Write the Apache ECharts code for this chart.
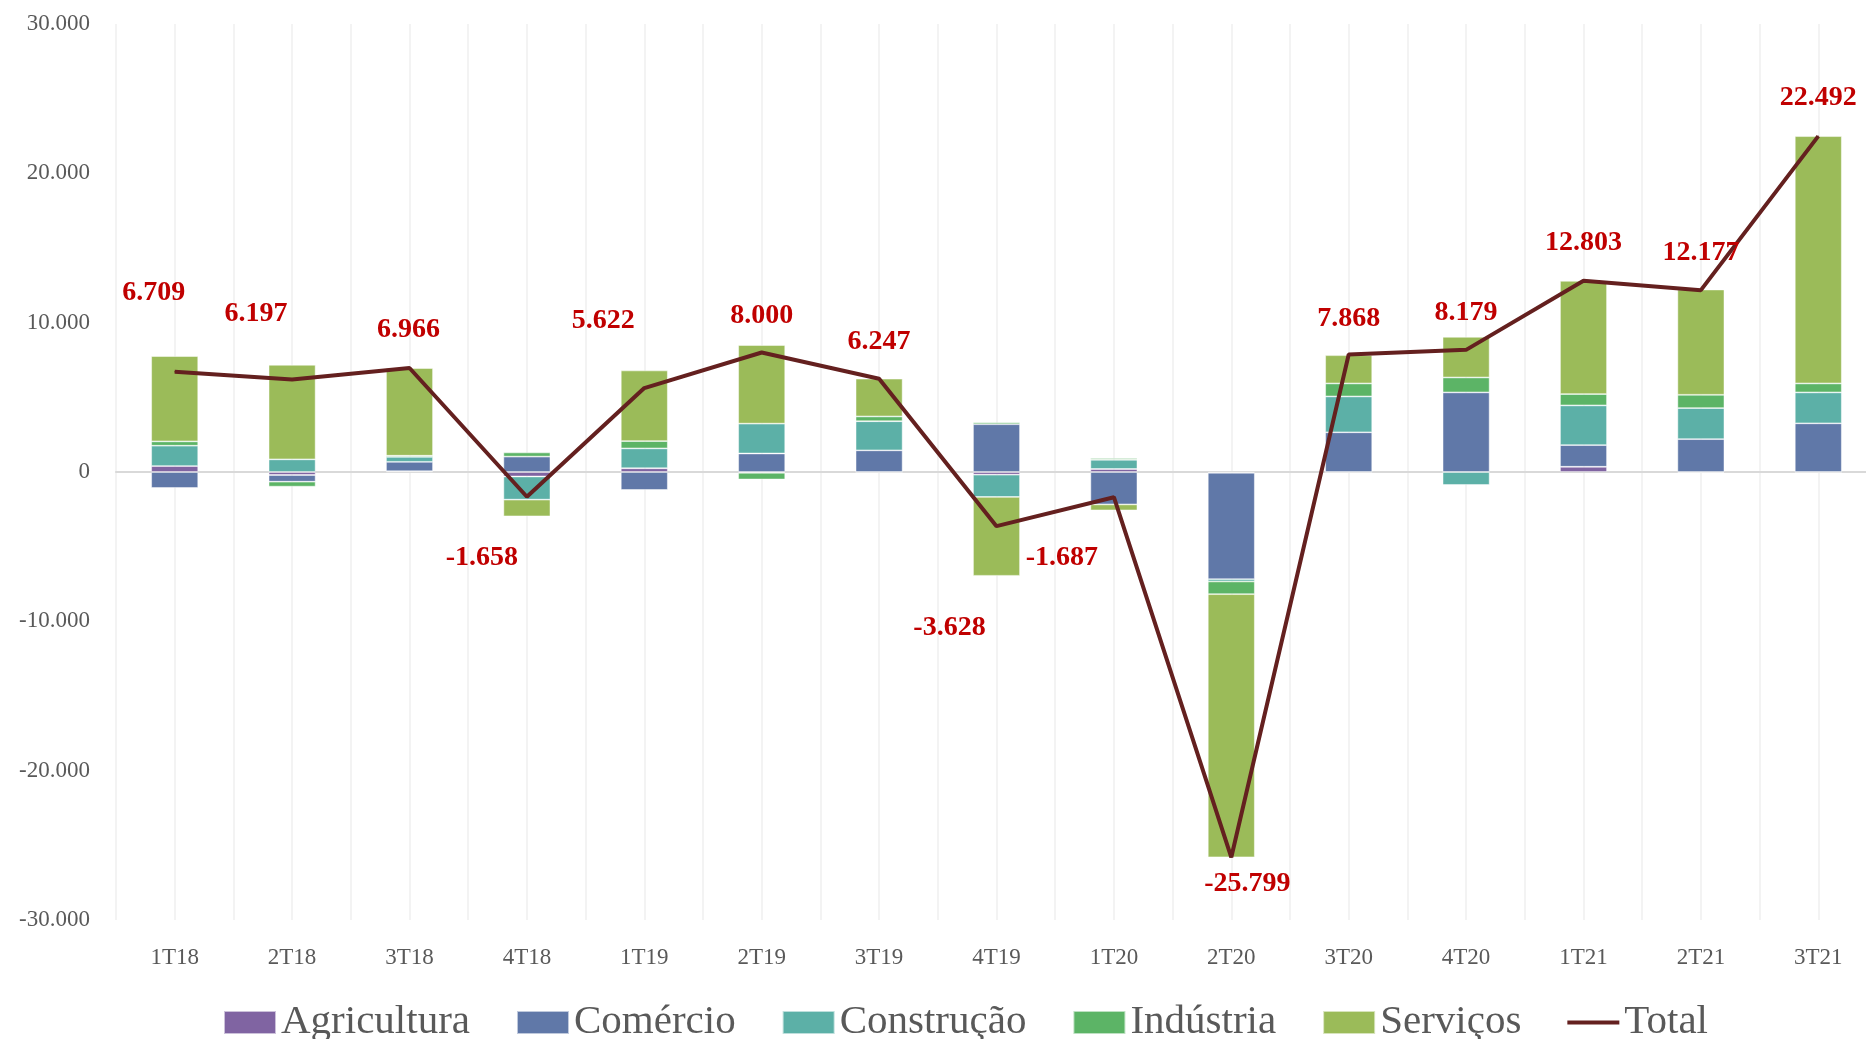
<!DOCTYPE html>
<html>
<head>
<meta charset="utf-8">
<script src="https://cdn.jsdelivr.net/npm/echarts@6/dist/echarts.min.js"></script>
<style>
  html, body { margin: 0; padding: 0; background: #fff; }
  #chart { width: 1866px; height: 1039px; }
</style>
</head>
<body>
<div id="chart"></div>
<script>
// trimestres
const quarters = ['1T18', '2T18', '3T18', '4T18', '1T19', '2T19', '3T19', '4T19', '1T20', '2T20', '3T20', '4T20', '1T21', '2T21', '3T21'];

// saldo por setor
const agricultura = [400, -200, 50, -300, 250, -50, 0, -180, 200, -50, 0, 0, 350, -50, 0];
const comercio = [-1070, -450, 630, 1030, -1200, 1240, 1450, 3200, -2170, -7130, 2660, 5330, 1450, 2200, 3260];
const construcao = [1360, 847, 330, -1550, 1330, 2000, 1950, -1490, 620, -150, 2400, -870, 2660, 2080, 2070];
const industria = [290, -330, 80, 280, 490, -450, 320, 130, 110, -850, 870, 1000, 760, 890, 600];
const servicos = [5710, 6330, 5870, -1120, 4730, 5260, 2530, -5280, -400, -17620, 1890, 2720, 7580, 7050, 16560];
const total = [6709, 6197, 6966, -1658, 5622, 8000, 6247, -3628, -1687, -25799, 7868, 8179, 12803, 12177, 22492];

// posição dos rótulos do total (estilo)
const labelOffsets = [[-21, -79], [-36, -66], [-1, -38], [-45, 61], [-41, -67], [0, -37], [0, -37], [-47, 102],
  [-52, 61], [16, 27], [0, -36], [0, -37], [0, -38], [0, -37], [0, -38]];

const fmt = v => v === 0 ? '0' : (v / 1000).toFixed(3);
const FONT = 'Liberation Serif';

const chart = echarts.init(document.getElementById('chart'));

const bar = (name, data, color) => ({
  name, type: 'bar', stack: 'setor', data, barWidth: 47,
  itemStyle: { color, borderColor: 'rgba(255,255,255,0.6)', borderWidth: 0.8 }
});

const option = {
  animation: false,
  textStyle: { fontFamily: FONT },
  grid: { left: 116, top: 24, width: 1761, height: 896, outerBoundsMode: 'none' },
  legend: {
    left: 218, top: 997, itemGap: 46, itemWidth: 52, itemHeight: 23, icon: 'rect',
    textStyle: { fontFamily: FONT, fontSize: 41, color: '#595959' },
    data: ['Agricultura', 'Comércio', 'Construção', 'Indústria', 'Serviços',
      { name: 'Total', icon: 'path://M0,0H52V4H0Z', itemStyle: { color: '#64201f' } }]
  },
  xAxis: [
    {
      type: 'category', data: quarters,
      axisLine: { show: false, onZero: false }, axisTick: { show: false },
      axisLabel: { margin: 26, fontFamily: FONT, fontSize: 23, color: '#595959' },
      splitLine: { show: false }
    },
    {
      // linhas verticais a cada meia categoria + linha do zero
      type: 'category', data: quarters.concat(quarters).map((q, i) => i),
      position: 'top',
      axisLine: { show: true, onZero: true, lineStyle: { color: '#d9d9d9', width: 2 } },
      axisTick: { show: false }, axisLabel: { show: false },
      splitLine: { show: true, lineStyle: { color: '#efefef', width: 1.5 } }
    }
  ],
  yAxis: {
    type: 'value', min: -30000, max: 30000, interval: 10000,
    axisLine: { show: false }, axisTick: { show: false },
    splitLine: { show: false },
    axisLabel: { margin: 26, fontFamily: FONT, fontSize: 23, color: '#595959', formatter: fmt }
  },
  series: [
    bar('Agricultura', agricultura, '#8064a2'),
    bar('Comércio', comercio, '#6078a8'),
    bar('Construção', construcao, '#5cb0a7'),
    bar('Indústria', industria, '#5cb466'),
    bar('Serviços', servicos, '#9bbb59'),
    {
      name: 'Total', type: 'line', z: 5,
      symbol: 'circle', symbolSize: 1,
      lineStyle: { color: '#64201f', width: 4 },
      itemStyle: { color: '#64201f' },
      data: total.map((v, i) => ({ value: v, label: { offset: labelOffsets[i] } })),
      label: {
        show: true, position: 'inside', formatter: p => fmt(p.value),
        fontFamily: FONT, fontSize: 28, fontWeight: 'bold', color: '#c00000'
      }
    }
  ]
};

option && chart.setOption(option);
</script>
</body>
</html>
